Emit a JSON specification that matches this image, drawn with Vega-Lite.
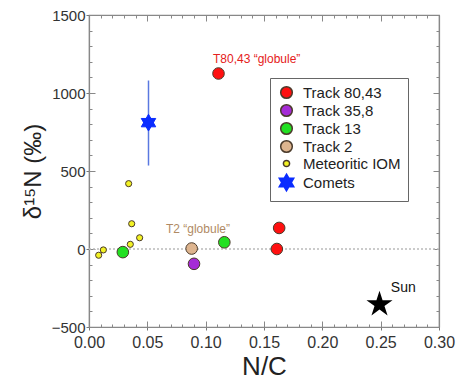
{
  "$schema": "https://vega.github.io/schema/vega-lite/v6.json",
  "autosize": {"type": "none"},
  "padding": {"left": 89, "top": 15, "right": 19, "bottom": 58},
  "width": 350,
  "height": 312,
  "background": "white",
  "view": {"stroke": "#888", "strokeWidth": 1.2},
  "config": {
    "font": "Liberation Sans",
    "axis": {"grid": false, "labelFlush": false},
    "legend": {"labelFontSize": 15, "labelColor": "#222", "labelOffset": 7, "rowPadding": -1, "padding": 7}
  },
  "datasets": {
    "points": [
      {"nc": 0.111, "d15n": 1125, "group": "Track 80,43"},
      {"nc": 0.163, "d15n": 135, "group": "Track 80,43"},
      {"nc": 0.161, "d15n": 0, "group": "Track 80,43"},
      {"nc": 0.090, "d15n": -95, "group": "Track 35,8"},
      {"nc": 0.034, "d15n": 419, "group": "Meteoritic IOM"},
      {"nc": 0.0366, "d15n": 162, "group": "Meteoritic IOM"},
      {"nc": 0.0434, "d15n": 72, "group": "Meteoritic IOM"},
      {"nc": 0.0123, "d15n": -6, "group": "Meteoritic IOM"},
      {"nc": 0.0083, "d15n": -40, "group": "Meteoritic IOM"},
      {"nc": 0.029, "d15n": -20, "group": "Track 13"},
      {"nc": 0.0354, "d15n": 30, "group": "Meteoritic IOM"},
      {"nc": 0.116, "d15n": 43, "group": "Track 13"},
      {"nc": 0.088, "d15n": 3, "group": "Track 2"},
      {"nc": 0.051, "d15n": 810, "group": "Comets"}
    ],
    "cometErr": [{"nc": 0.051, "lo": 535, "hi": 1080}],
    "sun": [{"nc": 0.249, "d15n": -355}],
    "labT80": [{"nc": 0.1437, "d15n": 1216, "text": "T80,43 \u201cglobule\u201d"}],
    "labT2": [{"nc": 0.0934, "d15n": 130, "text": "T2 \u201cglobule\u201d"}],
    "labSun": [{"nc": 0.2694, "d15n": -252, "text": "Sun"}]
  },
  "resolve": {"axis": {"x": "independent", "y": "independent"}},
  "layer": [
    {
      "data": {"values": [{}]},
      "mark": {"type": "rule", "color": "#bbbbbb", "strokeDash": [2, 2], "strokeWidth": 1.5},
      "encoding": {
        "y": {"datum": 0, "type": "quantitative", "scale": {"domain": [-500, 1500], "nice": false}, "axis": null}
      }
    },
    {
      "data": {"name": "cometErr"},
      "mark": {"type": "rule", "color": "#5a78e0", "strokeWidth": 1.5},
      "encoding": {
        "x": {"field": "nc", "type": "quantitative", "axis": null},
        "y": {"field": "lo", "type": "quantitative", "axis": null},
        "y2": {"field": "hi"}
      }
    },
    {
      "data": {"name": "points"},
      "mark": {"type": "point", "filled": true, "strokeWidth": 1, "opacity": 1},
      "encoding": {
        "x": {
          "field": "nc", "type": "quantitative",
          "scale": {"domain": [0, 0.3], "nice": false, "zero": false},
          "axis": {
            "orient": "bottom", "title": "N/C", "titleFontSize": 26, "titleFontWeight": "normal",
            "titleColor": "#222", "titlePadding": 3,
            "values": [0, 0.05, 0.1, 0.15, 0.2, 0.25, 0.3], "format": ".2f",
            "labelFontSize": 16, "labelColor": "#333", "labelPadding": 4,
            "tickSize": 3, "tickColor": "#777", "domainColor": "#888", "domainWidth": 1.2
          }
        },
        "y": {
          "field": "d15n", "type": "quantitative",
          "scale": {"domain": [-500, 1500], "nice": false, "zero": false},
          "axis": {
            "orient": "left", "title": "\u03b4\u00b9\u2075N (\u2030)", "titleFontSize": 24, "titleFontWeight": "normal",
            "titleColor": "#222", "titlePadding": 6, "format": "d",
            "values": [-500, 0, 500, 1000, 1500],
            "labelFontSize": 15, "labelColor": "#333", "labelPadding": 1,
            "tickSize": 3, "tickColor": "#777", "domainColor": "#888", "domainWidth": 1.2
          }
        },
        "color": {
          "field": "group", "type": "nominal",
          "scale": {
            "domain": ["Track 80,43", "Track 35,8", "Track 13", "Track 2", "Meteoritic IOM", "Comets"],
            "range": ["#ff1010", "#a52bd6", "#22e022", "#deb58f", "#f2f224", "#0a2cff"]
          },
          "legend": {
            "orient": "none", "legendX": 181, "legendY": 63, "title": null,
            "strokeColor": "#666", "fillColor": "white"
          }
        },
        "stroke": {
          "field": "group", "type": "nominal",
          "scale": {
            "domain": ["Track 80,43", "Track 35,8", "Track 13", "Track 2", "Meteoritic IOM", "Comets"],
            "range": ["#4a3a2a", "#4a3a2a", "#4a3a2a", "#4a3a2a", "#4a3a2a", "#0a2cff"]
          },
          "legend": {
            "orient": "none", "legendX": 181, "legendY": 63, "title": null,
            "strokeColor": "#666", "fillColor": "white"
          }
        },
        "shape": {
          "field": "group", "type": "nominal",
          "scale": {
            "domain": ["Track 80,43", "Track 35,8", "Track 13", "Track 2", "Meteoritic IOM", "Comets"],
            "range": ["circle", "circle", "circle", "circle", "circle", "M0,-1L0.866,0.5L-0.866,0.5Z M0,1L-0.866,-0.5L0.866,-0.5Z"]
          },
          "legend": {
            "orient": "none", "legendX": 181, "legendY": 63, "title": null,
            "strokeColor": "#666", "fillColor": "white"
          }
        },
        "size": {
          "field": "group", "type": "nominal",
          "scale": {
            "type": "ordinal",
            "domain": ["Track 80,43", "Track 35,8", "Track 13", "Track 2", "Meteoritic IOM", "Comets"],
            "range": [135, 135, 135, 135, 38, 280]
          },
          "legend": {
            "orient": "none", "legendX": 181, "legendY": 63, "title": null,
            "strokeColor": "#666", "fillColor": "white"
          }
        }
      }
    },
    {
      "data": {"name": "sun"},
      "mark": {"type": "point", "filled": true, "color": "black", "opacity": 1, "size": 750,
        "shape": "M0,-1L0.2245,-0.309L0.951,-0.309L0.3633,0.118L0.588,0.809L0,0.382L-0.588,0.809L-0.3633,0.118L-0.951,-0.309L-0.2245,-0.309Z"},
      "encoding": {
        "x": {"field": "nc", "type": "quantitative",
          "axis": {"orient": "bottom", "title": null, "labels": false, "domain": false, "tickSize": -3, "tickColor": "#888",
            "values": [0,0.01,0.02,0.03,0.04,0.05,0.06,0.07,0.08,0.09,0.1,0.11,0.12,0.13,0.14,0.15,0.16,0.17,0.18,0.19,0.2,0.21,0.22,0.23,0.24,0.25,0.26,0.27,0.28,0.29,0.3]}},
        "y": {"field": "d15n", "type": "quantitative",
          "axis": {"orient": "left", "title": null, "labels": false, "domain": false, "tickSize": -3, "tickColor": "#888",
            "values": [-500,-400,-300,-200,-100,0,100,200,300,400,500,600,700,800,900,1000,1100,1200,1300,1400,1500]}}
      }
    },
    {
      "data": {"name": "labT80"},
      "mark": {"type": "text", "color": "#e52020", "fontSize": 12},
      "encoding": {
        "x": {"field": "nc", "type": "quantitative",
          "axis": {"orient": "top", "title": null, "labels": false, "domain": true, "domainColor": "#888", "domainWidth": 1.2, "tickSize": -3, "tickColor": "#888",
            "values": [0,0.01,0.02,0.03,0.04,0.05,0.06,0.07,0.08,0.09,0.1,0.11,0.12,0.13,0.14,0.15,0.16,0.17,0.18,0.19,0.2,0.21,0.22,0.23,0.24,0.25,0.26,0.27,0.28,0.29,0.3]}},
        "y": {"field": "d15n", "type": "quantitative",
          "axis": {"orient": "right", "title": null, "labels": false, "domain": true, "domainColor": "#888", "domainWidth": 1.2, "tickSize": -3, "tickColor": "#888",
            "values": [-500,-400,-300,-200,-100,0,100,200,300,400,500,600,700,800,900,1000,1100,1200,1300,1400,1500]}},
        "text": {"field": "text"}
      }
    },
    {
      "data": {"name": "labT2"},
      "mark": {"type": "text", "color": "#b08a64", "fontSize": 12},
      "encoding": {
        "x": {"field": "nc", "type": "quantitative",
          "axis": {"orient": "top", "title": null, "labels": false, "domain": false, "tickSize": -6, "tickColor": "#888",
            "values": [0, 0.05, 0.1, 0.15, 0.2, 0.25, 0.3]}},
        "y": {"field": "d15n", "type": "quantitative",
          "axis": {"orient": "right", "title": null, "labels": false, "domain": false, "tickSize": -6, "tickColor": "#888",
            "values": [-500, 0, 500, 1000, 1500]}},
        "text": {"field": "text"}
      }
    },
    {
      "data": {"name": "labSun"},
      "mark": {"type": "text", "color": "#111", "fontSize": 14},
      "encoding": {
        "x": {"field": "nc", "type": "quantitative",
          "axis": {"orient": "bottom", "title": null, "labels": false, "domain": false, "tickSize": -6, "tickColor": "#888",
            "values": [0, 0.05, 0.1, 0.15, 0.2, 0.25, 0.3]}},
        "y": {"field": "d15n", "type": "quantitative",
          "axis": {"orient": "left", "title": null, "labels": false, "domain": false, "tickSize": -6, "tickColor": "#888",
            "values": [-500, 0, 500, 1000, 1500]}},
        "text": {"field": "text"}
      }
    }
  ]
}
